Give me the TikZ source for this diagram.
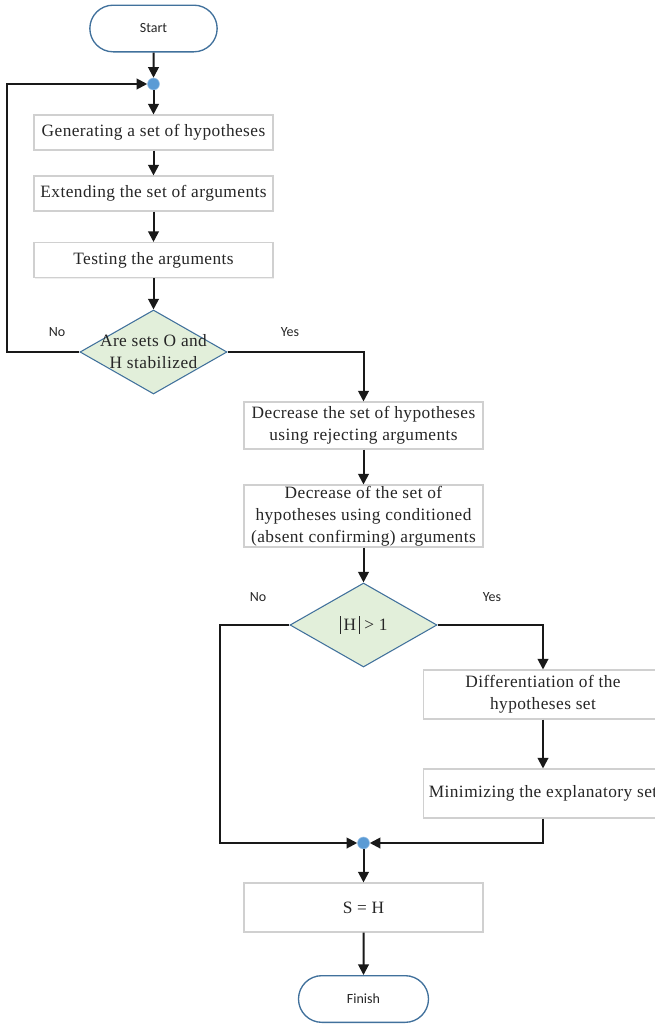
\documentclass[tikz,border=0pt]{standalone}
\usepackage{fontspec}
\setmainfont{Liberation Serif}
\newfontfamily\labelfont{Carlito}
\newfontfamily\boxfont[LetterSpace=2.5]{Liberation Serif}
\usetikzlibrary{shapes.geometric,shapes.misc,arrows.meta,shadows}
\definecolor{termblue}{HTML}{41719C}
\definecolor{dotblue}{HTML}{5B9BD5}
\definecolor{decfill}{HTML}{E2EFDA}
\definecolor{boxedge}{HTML}{D0D0D0}
\definecolor{inkgray}{HTML}{262626}
% tall thin bar for the cardinality sign
\newcommand{\cardbar}{\rule[-2.5pt]{0.6pt}{13pt}}
\begin{document}
\begin{tikzpicture}[x=0.75pt,y=-0.75pt,
  every node/.style={text=inkgray},
  terminal/.style={rounded rectangle, draw=termblue, line width=1pt, fill=white,
    minimum width=95.5pt, minimum height=35pt, inner sep=0pt,
    font=\labelfont\fontsize{10.5}{12}\selectfont},
  stepbox/.style={rectangle, draw=boxedge, line width=0.8pt, fill=white,
    minimum width=179.25pt, inner sep=0pt, align=center,
    drop shadow={shadow xshift=0.8pt, shadow yshift=-0.8pt, fill=black!12},
    font=\boxfont\fontsize{13}{16.5}\selectfont},
  decision/.style={diamond, draw=termblue, line width=0.8pt, fill=decfill,
    minimum width=110.25pt, minimum height=63pt, inner sep=0pt},
  dtext/.style={align=center, text=inkgray, font=\boxfont\fontsize{13}{16.5}\selectfont},
  junction/.style={circle, fill=dotblue, draw=dotblue!60, line width=0.4pt,
    minimum size=9pt, inner sep=0pt},
  branch/.style={font=\labelfont\fontsize{10.5}{12}\selectfont},
  arr/.style={draw=black!90, line width=1.5pt, -{Triangle[length=8pt,width=8pt]}}]

\useasboundingbox (0,0) rectangle (655,1025);

% main column
\node[terminal] (start) at (153.5,28.5) {Start};
\node[junction] (dot1) at (153.5,84) {};
\node[stepbox, minimum height=26.25pt] (gen) at (153.5,132.5) {Generating a set of hypotheses};
\node[stepbox, minimum height=26.25pt] (ext) at (153.5,193.5) {Extending the set of arguments};
\node[stepbox, minimum height=26.25pt] (tst) at (153.5,260) {Testing the arguments};
\node[decision, label={[dtext]center:Are sets O and\\H stabilized}] (stab) at (153.5,352) {};

% after stabilisation
\node[stepbox, minimum height=35.25pt] (rej) at (363.5,425.5) {Decrease the set of hypotheses\\using rejecting arguments};
\node[stepbox, minimum height=46.5pt] (cond) at (363.5,516) {Decrease of the set of\\hypotheses using conditioned\\(absent confirming) arguments};
\node[decision, label={[dtext]center:\cardbar\hspace{2.5pt}H\hspace{2.5pt}\cardbar\hspace{3pt}> 1}] (card) at (363.5,625) {};

% differentiation branch
\node[stepbox, minimum height=36.75pt] (diff) at (543,694.5) {Differentiation of the\\hypotheses set};
\node[stepbox, minimum height=36.75pt] (mini) at (543,793.5) {Minimizing the explanatory set};

% merge and end
\node[junction] (dot2) at (363.5,843) {};
\node[stepbox, minimum height=36.75pt] (res) at (363.5,907.5) {S = H};
\node[terminal, minimum width=97.5pt] (finish) at (363.5,999) {Finish};

% branch labels
\node[branch] (no1) at (57,332) {No};
\node[branch] (yes1) at (290,332) {Yes};
\node[branch] (no2) at (258,597) {No};
\node[branch] (yes2) at (492,597) {Yes};

% connectors
\coordinate (loopx) at (7,0);
\coordinate (mergex) at (220,0);

\draw[arr] (start) -- (dot1);
\draw[arr] (dot1) -- (gen);
\draw[arr] (gen) -- (ext);
\draw[arr] (ext) -- (tst);
\draw[arr] (tst) -- (stab);
\draw[arr] (stab.west) -- (stab.west -| loopx) |- (dot1);
\draw[arr] (stab.east) -| (rej.north);
\draw[arr] (rej) -- (cond);
\draw[arr] (cond) -- (card);
\draw[arr] (card.east) -| (diff.north);
\draw[arr] (diff) -- (mini);
\draw[arr] (card.west) -- (card.west -| mergex) |- (dot2);
\draw[arr] (mini.south) |- (dot2);
\draw[arr] (dot2) -- (res);
\draw[arr] (res) -- (finish);

\end{tikzpicture}
\end{document}
